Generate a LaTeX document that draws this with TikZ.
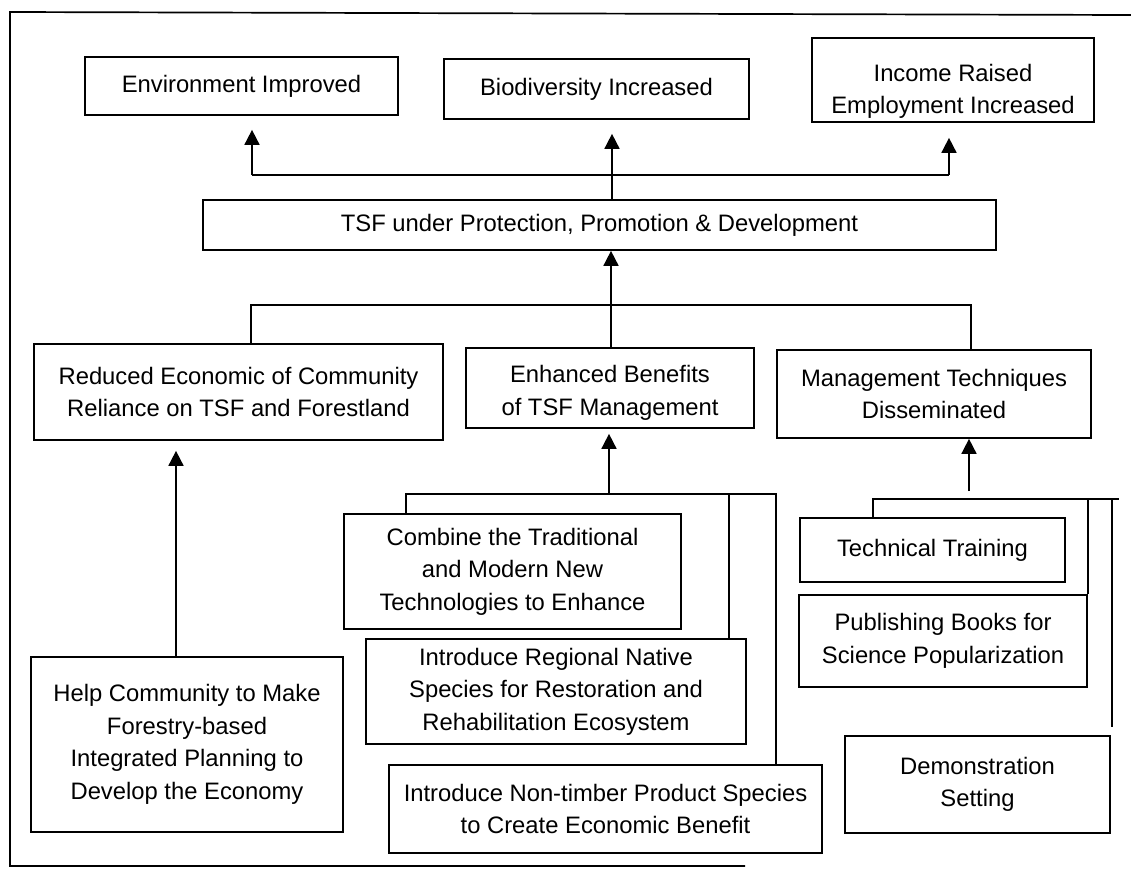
\documentclass[tikz,border=0pt]{standalone}
\usepackage{fontspec}
\setmainfont{Liberation Sans}
\usetikzlibrary{arrows.meta, positioning}

\begin{document}
\begin{tikzpicture}[
  x=1pt, y=-1pt,
  block/.style={
    rectangle,
    draw=black,
    line width=1.7pt,
    align=center,
    inner sep=0pt,
    font=\fontsize{23.8}{32.5}\selectfont
  },
  link/.style={line width=1.7pt, draw=black},
  arrow/.style={-{Triangle[length=15pt, width=15pt]}, line width=1.7pt, draw=black}
]
\useasboundingbox (0,0) rectangle (1131,871);
\draw[link] (745,866) -- (10,866) -- (10,12) -- (1131,15);

\node[block, minimum width=313pt, minimum height=58pt] (env) at (241.5,86) {Environment Improved};
\node[block, minimum width=305pt, minimum height=60pt] (bio) at (596.5,89) {Biodiversity Increased};
\node[block, minimum width=282pt, minimum height=84pt] (inc) at (953,80) {\rule{0pt}{40pt}Income Raised\\Employment Increased};
\node[block, minimum width=793pt, minimum height=50pt] (tsf) at (599.5,225) {TSF under Protection, Promotion \& Development};
\node[block, minimum width=409pt, minimum height=96pt] (red) at (238.5,392) {Reduced Economic of Community\\Reliance on TSF and Forestland};
\node[block, minimum width=288pt, minimum height=80pt] (enh) at (610,388) {\rule{0pt}{27pt}Enhanced Benefits\\of TSF Management};
\node[block, minimum width=314pt, minimum height=88pt] (man) at (934,394) {Management Techniques\\Disseminated};
\node[block, minimum width=337pt, minimum height=115pt] (comb) at (512.5,571.5) {Combine the Traditional\\and Modern New\\Technologies to Enhance};
\node[block, minimum width=380pt, minimum height=105pt] (reg) at (556,691.5) {Introduce Regional Native\\Species for Restoration and\\Rehabilitation Ecosystem};
\node[block, minimum width=433pt, minimum height=88pt] (ntp) at (605.5,809) {Introduce Non-timber Product Species\\to Create Economic Benefit};
\node[block, minimum width=312pt, minimum height=175pt] (help) at (187,744.5) {Help Community to Make\\Forestry-based\\Integrated Planning to\\Develop the Economy};
\node[block, minimum width=265pt, minimum height=64pt] (tech) at (932.5,550) {Technical Training};
\node[block, minimum width=288pt, minimum height=92pt] (pub) at (943,641) {Publishing Books for\\Science Popularization};
\node[block, minimum width=265pt, minimum height=97pt] (demo) at (977.5,784.5) {Demonstration\\Setting};

\coordinate (upL) at (252,175);
\coordinate (upM) at (612,175);
\coordinate (upR) at (949,175);
\draw[link] (upL) -- (upR);
\draw[arrow, shorten >=14pt] (upL) -- (upL |- env.south);
\draw[arrow, shorten >=14pt] (upM |- tsf.north) -- (upM |- bio.south);
\draw[arrow, shorten >=15pt] (upR) -- (upR |- inc.south);

\coordinate (midL) at (251,305);
\coordinate (midM) at (611,305);
\coordinate (midR) at (971,305);
\draw[link] (midL |- red.north) -- (midL) -- (midR) -- (midR |- man.north);
\draw[arrow] (midM |- enh.north) -- (midM |- tsf.south);

\coordinate (leftUp) at (176,550);
\draw[arrow, shorten >=10pt] (leftUp |- help.north) -- (leftUp |- red.south);

\coordinate (lowL) at (406,494);
\coordinate (lowM) at (609,494);
\coordinate (lowN) at (729,494);
\coordinate (lowR) at (776,494);
\draw[link] (lowL |- comb.north) -- (lowL) -- (lowR) -- (lowR |- ntp.north);
\draw[link] (lowN) -- (lowN |- reg.north);
\draw[arrow, shorten >=5pt] (lowM) -- (lowM |- enh.south);

\coordinate (rgtL) at (873,499);
\coordinate (rgtM) at (969,499);
\coordinate (rgtA) at (1088,499);
\coordinate (rgtB) at (1112,499);
\coordinate (rgtR) at (1119,499);
\draw[link] (rgtL |- tech.north) -- (rgtL) -- (rgtR);
\draw[link] (rgtA) -- (rgtA |- pub.north);
\draw[link] (rgtB) -- ([yshift=8pt]rgtB |- demo.north);
\draw[arrow, shorten <=8pt] (rgtM) -- (rgtM |- man.south);
\end{tikzpicture}
\end{document}
